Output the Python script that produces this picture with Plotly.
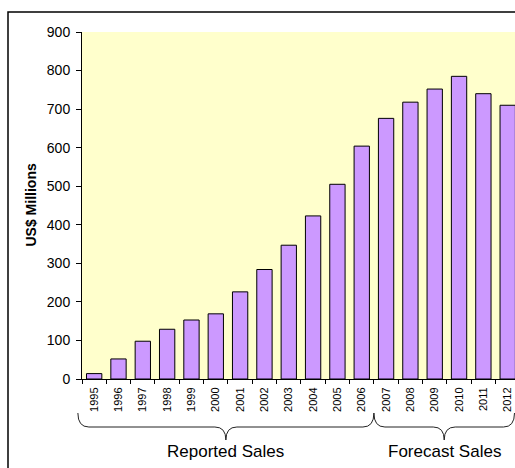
import plotly.graph_objects as go

# ---- data ----
years = [str(y) for y in range(1995, 2013)]
sales = [14, 52, 98, 129, 153, 169, 226, 284, 347, 423, 505, 604,
         676, 718, 752, 785, 740, 710]
y_ticks = [0, 100, 200, 300, 400, 500, 600, 700, 800, 900]
group_labels = ["Reported Sales", "Forecast Sales"]
# category index spans of the groups (boundaries)
group_spans = [(-0.67, 11.5), (11.5, 17.28)]

# ---- geometry ----
W, H = 515, 468
ML, MR, MT, MB = 82, 0, 32, 89
PW, PH = W - ML - MR, H - MT - MB
XR = [-0.5, 17.3]
FONT = "Liberation Sans, Arial, sans-serif"


def xp(i):
    return (i - XR[0]) / (XR[1] - XR[0])


def yp_px(dy):
    # dy pixels below plot bottom -> paper y
    return -dy / PH


def xpx(dx):
    return dx / PW


fig = go.Figure()
fig.add_trace(go.Bar(
    x=years, y=sales,
    marker=dict(color="#CC99FF", line=dict(color="black", width=1)),
    width=0.63,
    hoverinfo="x+y",
))

shapes = []
# outer border (left and top visible)
shapes.append(dict(type="rect", xref="paper", yref="paper",
                   x0=-(ML - 8) / PW, x1=1.2, y0=-0.5, y1=1 + (MT - 12) / PH,
                   line=dict(color="black", width=1.5), fillcolor="rgba(0,0,0,0)",
                   layer="above"))

# braces
yt, ym, yb, r = 34, 48, 61, 11
annotations = []
for (a, b), lab in zip(group_spans, group_labels):
    x0, x1 = xp(a), xp(b)
    xm = (x0 + x1) / 2
    rr = xpx(r)
    Yt, Ym, Yb = yp_px(yt), yp_px(ym), yp_px(yb)
    path = (f"M {x0},{Yt} Q {x0},{Ym} {x0 + rr},{Ym} L {xm - rr},{Ym} "
            f"Q {xm},{Ym} {xm},{Yb} Q {xm},{Ym} {xm + rr},{Ym} "
            f"L {x1 - rr},{Ym} Q {x1},{Ym} {x1},{Yt}")
    shapes.append(dict(type="path", xref="paper", yref="paper", path=path,
                       line=dict(color="#222222", width=1)))
    annotations.append(dict(text=lab, xref="paper", yref="paper",
                            x=xm, y=yp_px(73), xanchor="center", yanchor="middle",
                            showarrow=False,
                            font=dict(family=FONT, size=17, color="black")))

# y axis title
annotations.append(dict(text="<b>US$ Millions</b>", xref="paper", yref="paper",
                        x=0, y=0.5, xshift=-52, textangle=-90,
                        xanchor="center", yanchor="middle", showarrow=False,
                        font=dict(family=FONT, size=14, color="black")))

fig.update_layout(
    width=W, height=H,
    margin=dict(l=ML, r=MR, t=MT, b=MB, autoexpand=False),
    paper_bgcolor="white",
    plot_bgcolor="#FFFFCC",
    showlegend=False,
    bargap=0.37,
    font=dict(family=FONT, color="black"),
    shapes=shapes,
    annotations=annotations,
    template="none",
)
fig.update_xaxes(
    type="category", range=XR,
    showline=True, linecolor="black", linewidth=1,
    ticks="outside", ticklen=4, tickcolor="black", tickson="boundaries",
    tickangle=-90, tickfont=dict(family=FONT, size=11, color="black"),
    ticklabelstandoff=3,
    showgrid=False, zeroline=False,
)
fig.update_yaxes(
    range=[0, 900], tickvals=y_ticks,
    showline=True, linecolor="black", linewidth=1,
    ticks="outside", ticklen=5, tickcolor="black",
    tickfont=dict(family=FONT, size=14, color="black"),
    ticklabelstandoff=3,
    showgrid=False, zeroline=False,
)

fig.write_html("out.html")
